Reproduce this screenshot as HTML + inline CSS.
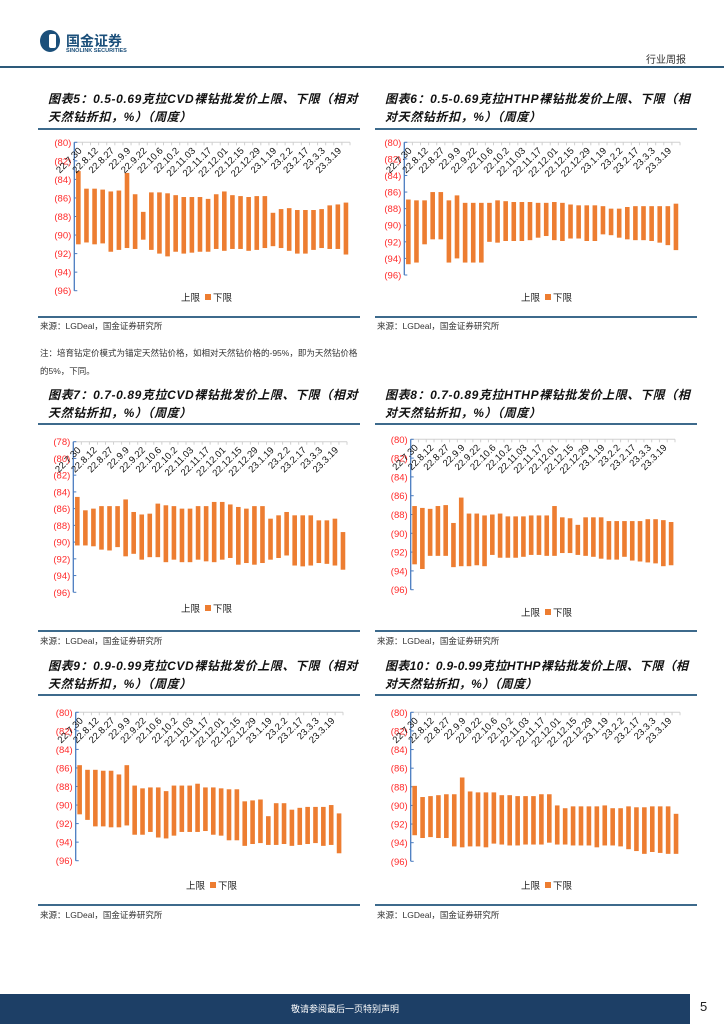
<!DOCTYPE html>
<html><head><meta charset="utf-8">
<style>
body{margin:0;width:724px;height:1024px;position:relative;background:#fff;font-family:"Liberation Sans","Noto Sans CJK SC",sans-serif;overflow:hidden}
.abs{position:absolute}
.title{position:absolute;font-size:12px;font-weight:bold;font-style:italic;color:#111;line-height:18px;white-space:nowrap;letter-spacing:0.6px}
.rule{position:absolute;height:2px;background:#3d6a8c}
.src{position:absolute;font-size:8.5px;color:#333}
svg text{font-family:"Liberation Sans","Noto Sans CJK SC",sans-serif}
</style></head><body>
<div class="abs" style="left:40px;top:30px;width:20px;height:22px;border-radius:50%;background:#1b4f7a"></div>
<div class="abs" style="left:49px;top:34px;width:7px;height:14px;background:#fff;border-radius:2px"></div>
<div class="abs" style="left:66px;top:31px;font-size:14px;font-weight:bold;color:#1b4f7a">国金证券</div>
<div class="abs" style="left:66px;top:48px;font-size:5.5px;font-weight:bold;color:#1b4f7a">SINOLINK SECURITIES</div>
<div class="abs" style="left:646px;top:51px;font-size:10px;color:#333">行业周报</div>
<div class="abs" style="left:0;top:66px;width:724px;height:2px;background:#2d5a7a"></div>

<div class="title" style="left:48px;top:90px">图表5：0.5-0.69克拉CVD裸钻批发价上限、下限（相对<br>天然钻折扣，%）（周度）</div>
<div class="rule" style="left:38px;top:128px;width:322px"></div>
<div class="title" style="left:385px;top:90px">图表6：0.5-0.69克拉HTHP裸钻批发价上限、下限（相<br>对天然钻折扣，%）（周度）</div>
<div class="rule" style="left:375px;top:128px;width:322px"></div>
<div class="rule" style="left:38px;top:316px;width:322px"></div>
<div class="rule" style="left:375px;top:316px;width:322px"></div>
<div class="src" style="left:40px;top:320px">来源：LGDeal，国金证券研究所</div>
<div class="src" style="left:377px;top:320px">来源：LGDeal，国金证券研究所</div>
<div class="src" style="left:40px;top:344px;width:322px;line-height:18px">注：培育钻定价模式为锚定天然钻价格，如相对天然钻价格的-95%，即为天然钻价格的5%，下同。</div>

<div class="title" style="left:48px;top:386px">图表7：0.7-0.89克拉CVD裸钻批发价上限、下限（相对<br>天然钻折扣，%）（周度）</div>
<div class="rule" style="left:38px;top:423px;width:322px"></div>
<div class="title" style="left:385px;top:386px">图表8：0.7-0.89克拉HTHP裸钻批发价上限、下限（相<br>对天然钻折扣，%）（周度）</div>
<div class="rule" style="left:375px;top:423px;width:322px"></div>
<div class="rule" style="left:38px;top:630px;width:322px"></div>
<div class="rule" style="left:375px;top:630px;width:322px"></div>
<div class="src" style="left:40px;top:635px">来源：LGDeal，国金证券研究所</div>
<div class="src" style="left:377px;top:635px">来源：LGDeal，国金证券研究所</div>

<div class="title" style="left:48px;top:657px">图表9：0.9-0.99克拉CVD裸钻批发价上限、下限（相对<br>天然钻折扣，%）（周度）</div>
<div class="rule" style="left:38px;top:694px;width:322px"></div>
<div class="title" style="left:385px;top:657px;letter-spacing:0.3px">图表10：0.9-0.99克拉HTHP裸钻批发价上限、下限（相<br>对天然钻折扣，%）（周度）</div>
<div class="rule" style="left:375px;top:694px;width:322px"></div>
<div class="rule" style="left:38px;top:904px;width:322px"></div>
<div class="rule" style="left:375px;top:904px;width:322px"></div>
<div class="src" style="left:40px;top:909px">来源：LGDeal，国金证券研究所</div>
<div class="src" style="left:377px;top:909px">来源：LGDeal，国金证券研究所</div>

<div class="abs" style="left:0;top:994px;width:690px;height:30px;background:#1d3f66"></div>
<div class="abs" style="left:0;top:1002px;width:690px;text-align:center;font-size:9px;color:#fff">敬请参阅最后一页特别声明</div>
<div class="abs" style="left:700px;top:999px;font-size:13px;color:#222">5</div>

<svg id="charts" width="724" height="1024" style="position:absolute;left:0;top:0"></svg>
<script>
const dateLabels = ["22.7.30","22.8.12","22.8.27","22.9.9","22.9.22","22.10.6","22.10.2","22.11.03","22.11.17","22.12.01","22.12.15","22.12.29","23.1.19","23.2.2","23.2.17","23.3.3","23.3.19"];
const c5Upper = [83.1,85.0,85.0,85.1,85.3,85.2,83.3,85.6,87.5,85.4,85.4,85.5,85.7,85.9,85.9,85.9,86.1,85.6,85.3,85.7,85.8,85.9,85.8,85.8,87.6,87.2,87.1,87.3,87.3,87.3,87.2,86.8,86.7,86.5];
const c5Lower = [91.0,90.8,91.0,90.9,91.8,91.6,91.4,91.5,90.5,91.6,92.0,92.3,91.8,92.0,91.9,91.8,91.8,91.5,91.7,91.5,91.5,91.7,91.6,91.4,91.2,91.4,91.7,92.0,92.0,91.6,91.4,91.5,91.5,92.1];
const c6Upper = [86.9,87.0,87.0,86.0,86.0,87.0,86.4,87.3,87.3,87.3,87.3,87.0,87.1,87.2,87.2,87.2,87.3,87.3,87.2,87.3,87.5,87.6,87.6,87.6,87.7,88.0,88.0,87.8,87.7,87.7,87.7,87.7,87.7,87.4];
const c6Lower = [94.7,94.5,92.3,91.7,91.7,94.5,94.0,94.5,94.5,94.5,92.0,92.1,91.9,91.9,91.9,91.8,91.5,91.3,91.8,91.9,91.6,91.6,91.9,91.9,91.1,91.2,91.5,91.7,91.8,91.8,91.9,92.1,92.4,93.0];
const c7Upper = [84.6,86.2,86.0,85.7,85.7,85.7,84.9,86.4,86.7,86.6,85.4,85.6,85.7,86.0,86.0,85.7,85.7,85.2,85.2,85.5,85.8,86.0,85.7,85.7,87.2,86.8,86.4,86.8,86.8,86.8,87.4,87.4,87.2,88.8];
const c7Lower = [90.4,90.4,90.5,90.9,91.0,90.6,91.7,91.4,92.1,91.8,91.8,92.4,92.1,92.4,92.4,92.1,92.3,92.4,92.1,91.9,92.7,92.5,92.7,92.5,92.1,91.9,91.6,92.8,92.9,92.8,92.5,92.6,92.8,93.3];
const c8Upper = [87.1,87.3,87.4,87.1,87.0,88.9,86.2,87.9,87.9,88.1,88.0,87.9,88.2,88.2,88.2,88.1,88.1,88.1,87.1,88.3,88.4,89.1,88.3,88.3,88.3,88.7,88.7,88.7,88.7,88.7,88.5,88.5,88.6,88.8];
const c8Lower = [93.3,93.8,92.4,92.4,92.4,93.6,93.5,93.5,93.4,93.5,92.3,92.6,92.6,92.6,92.5,92.3,92.3,92.4,92.4,92.1,92.1,92.3,92.4,92.5,92.7,92.8,92.8,92.5,92.9,93.0,93.1,93.2,93.5,93.4];
const c9Upper = [85.7,86.2,86.2,86.3,86.3,86.7,85.7,87.9,88.2,88.1,88.1,88.5,87.9,87.9,87.9,87.7,88.1,88.1,88.2,88.3,88.3,89.6,89.5,89.4,91.2,89.8,89.8,90.5,90.3,90.2,90.2,90.2,90.0,90.9];
const c9Lower = [91.0,91.6,92.3,92.3,92.4,92.4,92.2,93.2,93.2,92.9,93.5,93.6,93.3,92.9,92.9,92.9,92.8,93.2,93.3,93.8,93.8,94.4,94.2,94.1,94.3,94.3,94.2,94.4,94.3,94.2,94.1,94.4,94.3,95.2];
const c10Upper = [87.9,89.1,89.0,88.9,88.8,88.8,87.0,88.5,88.6,88.6,88.6,88.9,88.9,89.0,89.0,89.0,88.8,88.8,90.0,90.3,90.1,90.1,90.1,90.1,90.0,90.3,90.3,90.1,90.2,90.2,90.1,90.1,90.1,90.9];
const c10Lower = [93.2,93.5,93.4,93.5,93.5,94.4,94.5,94.4,94.4,94.5,94.1,94.2,94.3,94.3,94.2,94.2,94.2,94.0,94.2,94.2,94.3,94.3,94.3,94.5,94.3,94.3,94.4,94.7,94.9,95.2,95.0,95.1,95.2,95.2];

const svg = document.getElementById('charts');
const NS = 'http://www.w3.org/2000/svg';
function mk(tag, attrs, parent){ const e=document.createElementNS(NS,tag); for(const k in attrs) e.setAttribute(k,attrs[k]); (parent||svg).appendChild(e); return e; }

function drawChart(id, upper, lower, g){
  const grp = mk('g',{});
  
  
  const n = upper.length;
  const band = (g.right - g.left) / n;
  const y = v => g.top + (v - g.min) / (g.max - g.min) * (g.bottom - g.top);
  const x = i => g.left + band * (i + 0.5);
  const gl = mk('line',{x1:g.left,x2:g.right,y1:g.top,y2:g.top,stroke:'#d0d0d0','stroke-width':1},grp);
  
  
  for(let i=0;i<=n;i++){
    const t = mk('line',{x1:g.left+band*i,x2:g.left+band*i,y1:g.top,y2:g.top+3,stroke:'#d0d0d0','stroke-width':1},grp);
    
    
  }
  const ax = mk('line',{x1:g.left,x2:g.left,y1:g.top,y2:g.bottom,stroke:'#4a7cc0','stroke-width':1.3},grp);
  
  
  for(let v=g.min; v<=g.max; v+=2){
    const tk = mk('line',{x1:g.left,x2:g.left+3,y1:y(v),y2:y(v),stroke:'#4a7cc0','stroke-width':1},grp);
    
    
    const tl = mk('text',{x:g.left-3,y:y(v)+3.5,'text-anchor':'end','font-size':9.5,fill:'#ff2a2a'},grp);
    tl.textContent = '(' + v + ')';
    
    
  }
  for(let i=0;i<n;i++){
    const r = mk('rect',{x:x(i)-2.3,y:y(upper[i]),width:4.6,height:y(lower[i])-y(upper[i]),fill:'#ed7d31'},grp);
    
    
  }
  dateLabels.forEach((lab, k) => {
    const i = k*2;
    const lx = x(i)+4, ly = g.top+9;
    const t = mk('text',{x:lx,y:ly,'text-anchor':'end','font-size':9.5,fill:'#111',transform:`rotate(-45 ${lx} ${ly})`},grp);
    t.textContent = lab;
    
    
  });
  const l1 = mk('text',{x:g.legX-26,y:g.legY+4,'font-size':9.5,fill:'#222'},grp);
  l1.textContent = '上限';
  
  
  const sw = mk('rect',{x:g.legX-2,y:g.legY-3,width:6,height:6,fill:'#ed7d31'},grp);
  
  
  const l2 = mk('text',{x:g.legX+6,y:g.legY+4,'font-size':9.5,fill:'#222'},grp);
  l2.textContent = '下限';
  
  
}
drawChart('chart5', c5Upper, c5Lower, {left:74.3,right:350,top:142.3,bottom:290.7,min:80,max:96,legX:207,legY:297});
drawChart('chart6', c6Upper, c6Lower, {left:404.3,right:680,top:142.3,bottom:275,min:80,max:96,legX:547,legY:297});
drawChart('chart7', c7Upper, c7Lower, {left:73.3,right:347,top:441.7,bottom:592.3,min:78,max:96,legX:207,legY:608});
drawChart('chart8', c8Upper, c8Lower, {left:410.7,right:675,top:439.3,bottom:589.7,min:80,max:96,legX:547,legY:612});
drawChart('chart9', c9Upper, c9Lower, {left:75.7,right:343,top:712.3,bottom:860.7,min:80,max:96,legX:212,legY:885});
drawChart('chart10', c10Upper, c10Lower, {left:410.7,right:680,top:712.3,bottom:861.3,min:80,max:96,legX:547,legY:885});
</script>
</body></html>
